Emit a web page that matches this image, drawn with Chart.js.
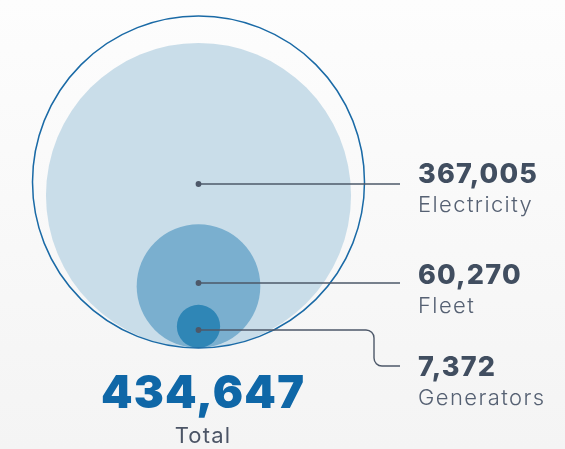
<!DOCTYPE html>
<html>
<head>
<meta charset="utf-8">
<script src="https://cdn.jsdelivr.net/npm/chart.js"></script>
<style>
  html, body { margin: 0; padding: 0; }
  body {
    width: 565px; height: 449px; overflow: hidden;
    background: linear-gradient(#fdfdfd, #f4f4f4);
  }
  canvas { display: block; }
</style>
</head>
<body>
<canvas id="chart" width="565" height="449"></canvas>
<script>
const categories = ["Electricity", "Fleet", "Generators"];
const values = [367005, 60270, 7372];
const totalLabel = "Total";

const total = values.reduce((a, b) => a + b, 0);
const fmt = (v) => v.toLocaleString("en-US");

const fills = ["#c9dde9", "#7aafcf", "#2f86b6"];
const maxR = 166; // radius of the total circle, px

// every bubble sits on the bottom of the plot, so its centre is r above it
const bubble = (v) => {
  const r = maxR * Math.sqrt(v / total);
  return { x: 0, y: r, r };
};

const callouts = {
  id: "callouts",
  afterDatasetsDraw(chart) {
    const { ctx, scales } = chart;
    const cx = scales.x.getPixelForValue(0);
    const anchorY = [184, 283, 330];
    const textX = 418, lineEnd = 400;
    const numY = [183, 284, 376];
    const labY = [212, 313, 405];

    ctx.save();
    ctx.strokeStyle = "#4d5869";
    ctx.lineWidth = 1.4;
    categories.forEach((c, i) => {
      const y = anchorY[i];
      ctx.beginPath();
      if (i < 2) {
        ctx.moveTo(cx, y);
        ctx.lineTo(lineEnd, y);
      } else {
        const vx = 374, y2 = 366, rad = 8;
        ctx.moveTo(cx, y);
        ctx.arcTo(vx, y, vx, y2, rad);
        ctx.arcTo(vx, y2, lineEnd, y2, rad);
        ctx.lineTo(lineEnd, y2);
      }
      ctx.stroke();
      ctx.fillStyle = "#4d5869";
      ctx.beginPath();
      ctx.arc(cx, y, 2.9, 0, Math.PI * 2);
      ctx.fill();

      ctx.textAlign = "left";
      ctx.textBaseline = "alphabetic";
      ctx.fillStyle = "#414e60";
      ctx.font = "800 27px Inter";
      ctx.letterSpacing = "1.2px";
      ctx.fillText(fmt(values[i]), textX, numY[i]);
      ctx.fillStyle = "#566173";
      ctx.font = "300 22px Inter";
      ctx.letterSpacing = "1.4px";
      ctx.fillText(c, textX, labY[i]);
    });

    ctx.textAlign = "center";
    ctx.fillStyle = "#0f67a7";
    ctx.font = "900 45px Inter";
    ctx.letterSpacing = "1.2px";
    ctx.fillText(fmt(total), 203, 408);
    ctx.fillStyle = "#4c5566";
    ctx.font = "400 22px Inter";
    ctx.letterSpacing = "1.2px";
    ctx.fillText(totalLabel, 203, 443);
    ctx.restore();
  }
};

new Chart(document.getElementById("chart"), {
  type: "bubble",
  data: {
    datasets: [{
      data: [...values.map(bubble), bubble(total)],
      backgroundColor: [...fills, "rgba(0,0,0,0)"],
      borderColor: ["rgba(0,0,0,0)", "rgba(0,0,0,0)", "rgba(0,0,0,0)", "#1a6aa6"],
      borderWidth: [0, 0, 0, 1.5],
      hoverRadius: 0,
      clip: false
    }]
  },
  options: {
    responsive: false,
    animation: false,
    events: [],
    layout: {
      autoPadding: false,
      padding: { left: 32, right: 200, top: 16, bottom: 101 }
    },
    scales: {
      x: { min: -1, max: 1, display: false },
      y: { min: 0, max: 332, display: false }
    },
    plugins: { legend: { display: false }, tooltip: { enabled: false } }
  },
  plugins: [callouts]
});
</script>
</body>
</html>
